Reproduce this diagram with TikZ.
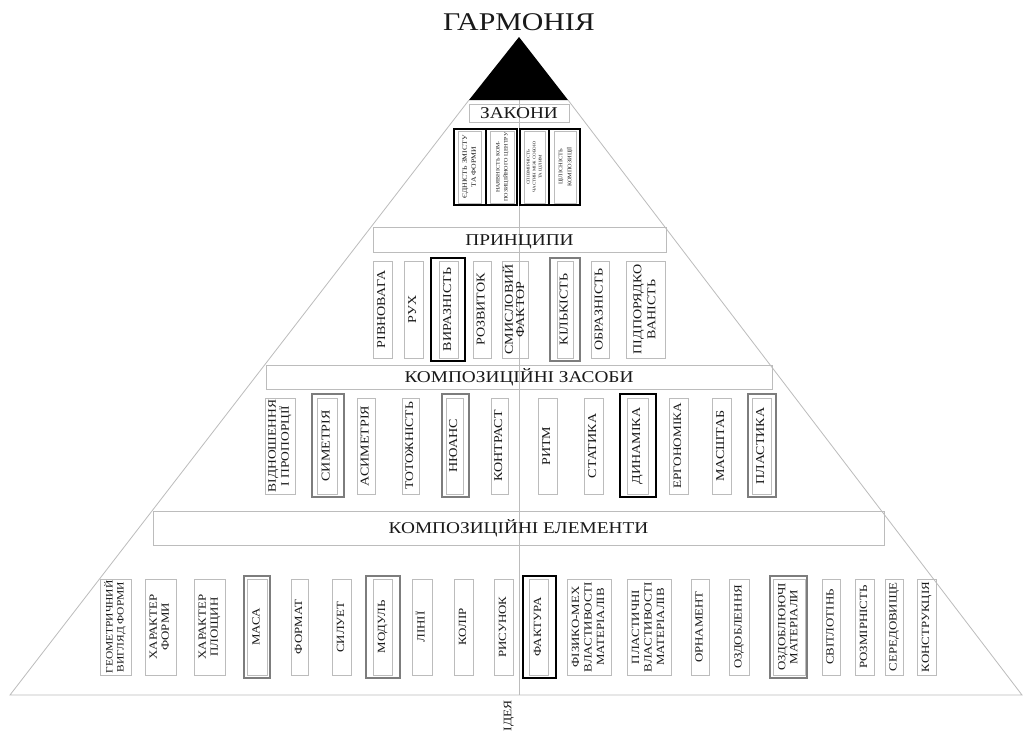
\documentclass[tikz,border=0pt]{standalone}
\usepackage{fontspec}
\setmainfont{Liberation Serif}
\usepackage{graphicx}
\definecolor{lgray}{RGB}{188,188,188}
\definecolor{mgray}{RGB}{125,125,125}
\definecolor{txt}{RGB}{25,25,25}
\newcommand\vlab[3]{\rotatebox{90}{\scalebox{1.17}[1]{\fontsize{#1}{#2}\selectfont\begin{tabular}{@{}c@{}}#3\end{tabular}}}}
\newcommand\pyrbox[8]{\node[thinbox, minimum width={#3-#2}, minimum height={#5-#4}] (#1) at ({(#2+#3)/2},{(#4+#5)/2}) {\vlab{#6}{#7}{#8}};}
\newcommand\pyrframe[6]{\node[#1, minimum width={#4-#3}, minimum height={#6-#5}] (#2) at ({(#3+#4)/2},{(#5+#6)/2}) {};}
\newcommand\barlab[1]{\scalebox{1.17}[1]{\fontsize{16.5}{18}\selectfont #1}}
\tikzset{
  thinbox/.style={draw=lgray, line width=0.9pt, inner sep=0pt, text=txt},
  barbox/.style={draw=lgray, line width=0.9pt, inner sep=0pt, text=txt, text height=11pt, text depth=0pt},
  blackframe/.style={draw=black, line width=2.8pt, inner sep=0pt},
  grayframe/.style={draw=mgray, line width=2.6pt, inner sep=0pt},
  pyr/.style={draw=lgray, line width=0.8pt}
}
\begin{document}
\begin{tikzpicture}[x=1pt,y=-1pt]
\useasboundingbox (0,0) rectangle (1023,731);
\fill[white] (0,0) rectangle (1023,731);
% pyramid
\draw[pyr] (469,100) -- (10,695) -- (1022,695) -- (568,100);
\draw[pyr] (519,100) -- (519,695);
\fill[black] (519,37) -- (469,100) -- (568,100) -- cycle;
% title
\node[inner sep=0pt, text=txt, text height=17pt, text depth=0pt] (title) at (519,21.5) {\scalebox{1.17}[1]{\fontsize{25.5}{28}\selectfont ГАРМОНІЯ}};
% laws
\node[barbox, minimum width=100, minimum height=18] (zak) at (519,113) {\barlab{ЗАКОНИ}};
\pyrbox{l1}{458}{481}{131}{203}{6.6}{9}{ЄДНІСТЬ ЗМІСТУ\\ТА ФОРМИ}
\pyrframe{blackframe}{l1f}{454}{486}{129}{205}
\pyrbox{l2}{490}{514}{131}{203}{5.2}{8}{НАЯВНІСТЬ КОМ-\\ПОЗИЦІЙНОГО ЦЕНТРУ}
\pyrframe{blackframe}{l2f}{486}{517}{129}{205}
\pyrbox{l3}{524}{545}{131}{203}{4.2}{6}{СПІВМІРНІСТЬ\\ЧАСТИН МІЖ СОБОЮ\\ТА ЦІЛИМ}
\pyrframe{blackframe}{l3f}{520}{549}{129}{205}
\pyrbox{l4}{554}{576}{131}{203}{5.4}{9}{ЦІЛІСНІСТЬ\\КОМПОЗИЦІЇ}
\pyrframe{blackframe}{l4f}{549}{580}{129}{205}
% principles
\node[barbox, minimum width=293, minimum height=25] (pr) at (519.5,239.5) {\barlab{ПРИНЦИПИ}};
\pyrbox{p1}{373}{392}{261}{358}{12}{13}{РІВНОВАГА}
\pyrbox{p2}{404}{423}{261}{358}{12}{13}{РУХ}
\pyrbox{p3}{439}{458}{261}{358}{12}{13}{ВИРАЗНІСТЬ}
\pyrframe{blackframe}{p3f}{431}{465}{258}{361}
\pyrbox{p4}{473}{491}{261}{358}{12}{13}{РОЗВИТОК}
\pyrbox{p5}{502}{528}{261}{358}{12}{11}{СМИСЛОВИЙ\\ФАКТОР}
\pyrbox{p6}{557}{573}{261}{358}{12}{13}{КІЛЬКІСТЬ}
\pyrframe{grayframe}{p6f}{550}{580}{258}{361}
\pyrbox{p7}{591}{609}{261}{358}{12}{13}{ОБРАЗНІСТЬ}
\pyrbox{p8}{626}{665}{261}{358}{12}{14}{ПІДПОРЯДКО\\ВАНІСТЬ}
% means
\node[barbox, minimum width=506, minimum height=24] (zs) at (519,377) {\barlab{КОМПОЗИЦІЙНІ ЗАСОБИ}};
\pyrbox{m1}{265}{295}{398}{494}{11.5}{12}{ВІДНОШЕННЯ\\І ПРОПОРЦІЇ}
\pyrbox{m2}{317}{337}{398}{494}{12}{13}{СИМЕТРІЯ}
\pyrframe{grayframe}{m2f}{312}{344}{394}{497}
\pyrbox{m3}{357}{375}{398}{494}{12}{13}{АСИМЕТРІЯ}
\pyrbox{m4}{402}{419}{398}{494}{11.7}{13}{ТОТОЖНІСТЬ}
\pyrbox{m5}{446}{463}{398}{494}{12}{13}{НЮАНС}
\pyrframe{grayframe}{m5f}{442}{469}{394}{497}
\pyrbox{m6}{491}{508}{398}{494}{12}{13}{КОНТРАСТ}
\pyrbox{m7}{538}{557}{398}{494}{12}{13}{РИТМ}
\pyrbox{m8}{584}{603}{398}{494}{12}{13}{СТАТИКА}
\pyrbox{m9}{627}{648}{398}{494}{12}{13}{ДИНАМІКА}
\pyrframe{blackframe}{m9f}{620}{656}{394}{497}
\pyrbox{m10}{669}{688}{398}{494}{11.3}{13}{ЕРГОНОМІКА}
\pyrbox{m11}{712}{731}{398}{494}{12}{13}{МАСШТАБ}
\pyrbox{m12}{752}{771}{398}{494}{12}{13}{ПЛАСТИКА}
\pyrframe{grayframe}{m12f}{748}{776}{394}{497}
% elements
\node[barbox, minimum width=731, minimum height=34] (el) at (518.5,528) {\barlab{КОМПОЗИЦІЙНІ ЕЛЕМЕНТИ}};
\pyrbox{e1}{100}{131}{579}{675}{9.8}{11}{ГЕОМЕТРИЧНИЙ\\ВИГЛЯД ФОРМИ}
\pyrbox{e2}{145}{176}{579}{675}{11}{12}{ХАРАКТЕР\\ФОРМИ}
\pyrbox{e3}{194}{225}{579}{675}{11}{12}{ХАРАКТЕР\\ПЛОЩИН}
\pyrbox{e4}{247}{267}{579}{675}{11}{13}{МАСА}
\pyrframe{grayframe}{e4f}{244}{270}{576}{678}
\pyrbox{e5}{291}{308}{579}{675}{11}{13}{ФОРМАТ}
\pyrbox{e6}{332}{351}{579}{675}{11}{13}{СИЛУЕТ}
\pyrbox{e7}{373}{392}{579}{675}{11}{13}{МОДУЛЬ}
\pyrframe{grayframe}{e7f}{366}{400}{576}{678}
\pyrbox{e8}{412}{432}{579}{675}{11}{13}{ЛІНІЇ}
\pyrbox{e9}{454}{473}{579}{675}{11}{13}{КОЛІР}
\pyrbox{e10}{494}{513}{579}{675}{11}{13}{РИСУНОК}
\pyrbox{e11}{529}{548}{579}{675}{11}{13}{ФАКТУРА}
\pyrframe{blackframe}{e11f}{523}{556}{576}{678}
\pyrbox{e12}{567}{611}{579}{675}{11}{12.5}{ФІЗИКО-МЕХ\\ВЛАСТИВОСТІ\\МАТЕРІАЛІВ}
\pyrbox{e13}{627}{671}{579}{675}{11}{12.5}{ПЛАСТИЧНІ\\ВЛАСТИВОСТІ\\МАТЕРІАЛІВ}
\pyrbox{e14}{691}{709}{579}{675}{11}{13}{ОРНАМЕНТ}
\pyrbox{e15}{729}{749}{579}{675}{11}{13}{ОЗДОБЛЕННЯ}
\pyrbox{e16}{773}{805}{579}{675}{11}{12}{ОЗДОБЛЮЮЧІ\\МАТЕРІАЛИ}
\pyrframe{grayframe}{e16f}{770}{807}{576}{678}
\pyrbox{e17}{822}{840}{579}{675}{11}{13}{СВІТЛОТІНЬ}
\pyrbox{e18}{855}{874}{579}{675}{11}{13}{РОЗМІРНІСТЬ}
\pyrbox{e19}{885}{903}{579}{675}{11}{13}{СЕРЕДОВИЩЕ}
\pyrbox{e20}{917}{936}{579}{675}{11}{13}{КОНСТРУКЦІЯ}
% idea
\node[inner sep=0pt, text=txt] (idea) at (509,716) {\vlab{11.5}{12}{ІДЕЯ}};
\end{tikzpicture}
\end{document}
